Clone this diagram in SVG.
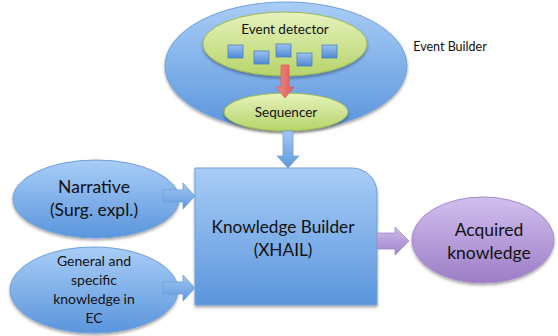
<svg xmlns="http://www.w3.org/2000/svg" width="558" height="336" viewBox="0 0 558 336">
  <style>
    text { font-family: Lato, "Open Sans", "Liberation Sans", sans-serif; fill: #111; text-anchor: middle; }
    .blue { fill: url(#gBlue); stroke: #6f9fd8; stroke-width: 1; }
    .green { fill: url(#gGreen); stroke: #9bbb59; stroke-width: 1; }
    .purple { fill: url(#gPurple); stroke: #a58bc9; stroke-width: 1; }
    .chip { fill: url(#gChip); stroke: #4f81bd; stroke-width: 0.8; }
    .arr-blue { fill: url(#gArrowBlue); stroke: #6f9fd8; stroke-width: 0.8; }
    .arr-purple { fill: url(#gArrowPurple); stroke: #a58bc9; stroke-width: 0.8; }
    .arr-red { fill: url(#gArrowRed); stroke: #d9625f; stroke-width: 0.8; }
  </style>
  <defs>
    <linearGradient id="gBlue" x1="0" y1="0" x2="0" y2="1">
      <stop offset="0" stop-color="#a9cdf7"/>
      <stop offset="1" stop-color="#5a95dc"/>
    </linearGradient>
    <linearGradient id="gGreen" x1="0" y1="0" x2="0" y2="1">
      <stop offset="0" stop-color="#e6f2bc"/>
      <stop offset="1" stop-color="#b7d46a"/>
    </linearGradient>
    <linearGradient id="gPurple" x1="0" y1="0" x2="0" y2="1">
      <stop offset="0" stop-color="#d2bfee"/>
      <stop offset="1" stop-color="#9c7dc6"/>
    </linearGradient>
    <linearGradient id="gChip" x1="0" y1="0" x2="0" y2="1">
      <stop offset="0" stop-color="#9cc2f0"/>
      <stop offset="1" stop-color="#4f8ad3"/>
    </linearGradient>
    <linearGradient id="gArrowBlue" x1="0" y1="0" x2="0" y2="1">
      <stop offset="0" stop-color="#a3c8f4"/>
      <stop offset="1" stop-color="#5f98dc"/>
    </linearGradient>
    <linearGradient id="gArrowPurple" x1="0" y1="0" x2="0" y2="1">
      <stop offset="0" stop-color="#cdb9ea"/>
      <stop offset="1" stop-color="#a284cc"/>
    </linearGradient>
    <linearGradient id="gArrowRed" x1="0" y1="0" x2="1" y2="0">
      <stop offset="0" stop-color="#f08c88"/>
      <stop offset="1" stop-color="#dc5a56"/>
    </linearGradient>
    <filter id="shadow" x="-10%" y="-10%" width="120%" height="125%">
      <feGaussianBlur in="SourceAlpha" stdDeviation="1.5"/>
      <feOffset dx="0" dy="2" result="b"/>
      <feComponentTransfer><feFuncA type="linear" slope="0.35"/></feComponentTransfer>
      <feMerge><feMergeNode/><feMergeNode in="SourceGraphic"/></feMerge>
    </filter>
  </defs>

  <!-- Event Builder container with its inner parts -->
  <g id="event-builder">
    <ellipse class="blue" cx="286" cy="66" rx="121" ry="64" filter="url(#shadow)"/>
    <text x="450" y="51" font-size="12.5">Event Builder</text>
  </g>

  <g id="event-detector">
    <ellipse class="green" cx="285" cy="44" rx="82" ry="32" filter="url(#shadow)"/>
    <text x="285" y="34" font-size="13.5">Event detector</text>
    <rect class="chip" x="228" y="45" width="15" height="13"/>
    <rect class="chip" x="254" y="51" width="15" height="13"/>
    <rect class="chip" x="276" y="44" width="15" height="13"/>
    <rect class="chip" x="297" y="53" width="15" height="13"/>
    <rect class="chip" x="322" y="45" width="15" height="13"/>
  </g>

  <g id="sequencer">
    <ellipse class="green" cx="286" cy="112" rx="62" ry="19" filter="url(#shadow)"/>
    <text x="286" y="117" font-size="13.5">Sequencer</text>
  </g>

  <g id="narrative">
    <ellipse class="blue" cx="96" cy="199" rx="83" ry="39" filter="url(#shadow)"/>
    <text x="94" y="193" font-size="17.5">Narrative</text>
    <text x="94" y="216" font-size="17.5">(Surg. expl.)</text>
  </g>

  <g id="general-knowledge">
    <ellipse class="blue" cx="94" cy="290" rx="84" ry="43" filter="url(#shadow)"/>
    <text x="94" y="266" font-size="14">General and</text>
    <text x="94" y="285" font-size="14">specific</text>
    <text x="94" y="304" font-size="14">knowledge in</text>
    <text x="94" y="323" font-size="14">EC</text>
  </g>

  <g id="knowledge-builder">
    <path class="blue" d="M195,168 H352 A25,25 0 0 1 377,193 V305 H195 Z" filter="url(#shadow)"/>
    <text x="283" y="233" font-size="17.2">Knowledge Builder</text>
    <text x="283" y="256" font-size="17.2">(XHAIL)</text>
  </g>

  <g id="acquired-knowledge">
    <ellipse class="purple" cx="483" cy="240" rx="71" ry="43" filter="url(#shadow)"/>
    <text x="489" y="236" font-size="17.5">Acquired</text>
    <text x="489" y="259" font-size="17.5">knowledge</text>
  </g>

  <!-- connectors: block arrows -->
  <g id="connectors">
    <path class="arr-red" d="M281,65 H289 V87 H294 L285,98 L276,87 H281 Z"/>
    <path class="arr-blue" d="M283,131 H293 V156 H299 L288,168 L277,156 H283 Z"/>
    <path class="arr-blue" d="M163,190 H183 V183 L195,196 L183,209 V202 H163 Z"/>
    <path class="arr-blue" d="M163,282 H183 V275 L195,288 L183,301 V294 H163 Z"/>
    <path class="arr-purple" d="M377,233 H395 V227 L409,241 L395,255 V249 H377 Z"/>
  </g>
</svg>
